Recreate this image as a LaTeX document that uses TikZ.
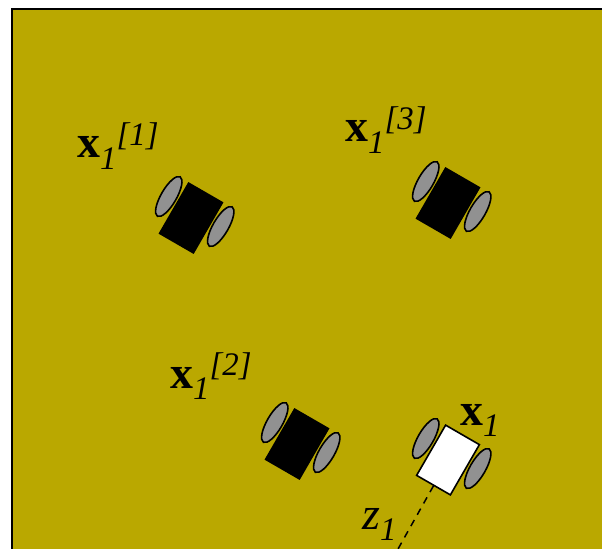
\documentclass[tikz,border=0pt]{standalone}
\usepackage{fontspec}
\setmainfont{Liberation Serif}
\usetikzlibrary{shapes.geometric, calc}
\definecolor{fieldolive}{RGB}{186,168,0}
\definecolor{wheelgray}{RGB}{145,145,145}
\newcommand{\lowidx}[1]{\raisebox{-12pt}{\fontsize{33}{33}\selectfont\itshape #1}}
\newcommand{\highidx}[1]{\raisebox{13pt}{\fontsize{33}{33}\selectfont\itshape [#1]}}

\tikzset{
  pics/robot/.style={
    code={
      \node[wheel] (-left) at (-30,7.5) {};
      \node[wheel] (-right) at (30,7.5) {};
      \node[chassis, fill=#1] (-body) at (0,0) {};
    }
  }
}

\begin{document}
\begin{tikzpicture}[
    x=1bp, y=1bp,
    wheel/.style={
      ellipse, draw, line width=1.6bp, fill=wheelgray, inner sep=0pt,
      minimum width=15.5bp, minimum height=45.5bp, transform shape
    },
    chassis/.style={
      rectangle, draw, line width=1.6bp, inner sep=0pt,
      minimum width=39bp, minimum height=58bp, transform shape
    },
    statelabel/.style={
      anchor=base west, inner sep=0pt, font=\fontsize{46}{46}\selectfont
    },
    field/.style={draw=black, line width=1.5bp, fill=fieldolive},
    ray/.style={dashed, line width=1.5bp, dash pattern=on 7bp off 6bp}
  ]
    \useasboundingbox (0,0) rectangle (602,-549);
    \draw[field] (12,-9) rectangle (605,-552);

    \pic[rotate=-30] (r1) at (191,-218) {robot=black};
    \pic[rotate=-30] (r3) at (448,-203) {robot=black};
    \pic[rotate=-30] (r2) at (297,-444) {robot=black};
    \pic[rotate=-30] (r0) at (448,-460) {robot=white};

    \node[statelabel] (lab1) at (77,-158) {\textbf{x}\lowidx{1}\highidx{1}};
    \node[statelabel] (lab3) at (345,-142) {\textbf{x}\lowidx{1}\highidx{3}};
    \node[statelabel] (lab2) at (170,-388) {\textbf{x}\lowidx{1}\highidx{2}};
    \node[statelabel] (lab0) at (460,-425) {\textbf{x}\lowidx{1}};
    \node[statelabel] (labz) at (362,-529) {\textit{z}\lowidx{1}};

    \coordinate (rayend) at (398,-549);
    \draw[ray] (r0-body) -- (rayend);
  \end{tikzpicture}
\end{document}
